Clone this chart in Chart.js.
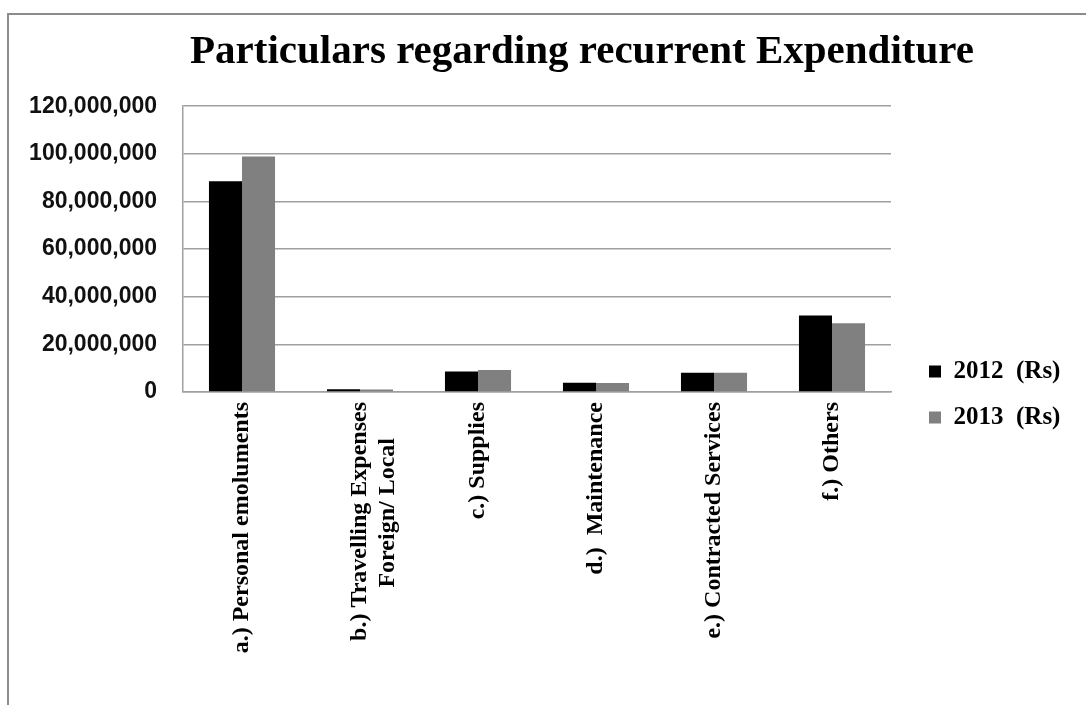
<!DOCTYPE html>
<html>
<head>
<meta charset="utf-8">
<script src="https://cdn.jsdelivr.net/npm/chart.js@4"></script>
<style>
  html, body { margin: 0; padding: 0; background: #fff; overflow: hidden; }
  #frame { position: absolute; left: 7px; top: 13px; width: 1200px; height: 800px;
           border-left: 2px solid #8c8c8c; border-top: 2px solid #8c8c8c; }
  #wrap { position: absolute; left: 0; top: 0; width: 1086px; height: 705px; }
</style>
</head>
<body>
<div id="frame"></div>
<div id="wrap"><canvas id="c"></canvas></div>
<script>
const titleText = 'Particulars regarding recurrent Expenditure';
const categories = [
  'a.) Personal emoluments',
  ['b.) Travelling Expenses', 'Foreign/ Local      '],
  'c.) Supplies',
  'd.)  Maintenance',
  'e.) Contracted Services',
  'f.) Others'
];
const seriesNames = ['2012  (Rs)', '2013  (Rs)'];
const values2012 = [88500000, 1200000, 8600000, 3900000, 8100000, 32100000];
const values2013 = [98900000, 1100000, 9200000, 3800000, 8100000, 28900000];
const yTicks = [0, 20000000, 40000000, 60000000, 80000000, 100000000, 120000000];

const placement = {
  id: 'placement',
  afterLayout(chart) {
    const t = chart.titleBlock;
    if (t) { t.left = 78; t.right = chart.width; }
    const lg = chart.legend;
    if (lg) {
      const w = lg.width, h = lg.height;
      lg.left = 908; lg.right = 908 + w;
      lg.top = 338; lg.bottom = 338 + h;
    }
  }
};

new Chart(document.getElementById('c'), {
  type: 'bar',
  data: {
    labels: categories,
    datasets: [
      { label: seriesNames[0], data: values2012, backgroundColor: '#000000' },
      { label: seriesNames[1], data: values2013, backgroundColor: '#808080' }
    ]
  },
  options: {
    responsive: true,
    maintainAspectRatio: false,
    animation: false,
    layout: { padding: { left: 0, right: 195, top: 0, bottom: 0 } },
    datasets: { bar: { categoryPercentage: 0.56, barPercentage: 1.0 } },
    plugins: {
      title: {
        display: true,
        text: titleText,
        color: '#000',
        font: { family: '"Liberation Serif", "Times New Roman", serif', size: 41, weight: 'bold' },
        padding: { top: 28, bottom: 29 }
      },
      legend: {
        display: true,
        position: 'chartArea',
        align: 'start',
        labels: {
          color: '#000',
          boxWidth: 12,
          boxHeight: 12,
          padding: 21,
          font: { family: '"Liberation Serif", "Times New Roman", serif', size: 25, weight: 'bold' }
        }
      },
      tooltip: { enabled: false }
    },
    scales: {
      x: {
        grid: { display: false, drawTicks: false },
        border: { display: true, color: '#a0a0a0', width: 1.5 },
        ticks: {
          autoSkip: false,
          maxRotation: 90,
          minRotation: 90,
          padding: 10,
          color: '#000',
          font: { family: '"Liberation Serif", "Times New Roman", serif', size: 24, weight: 'bold', lineHeight: 1.15 }
        },
        afterFit(scale) { scale.height = 313; }
      },
      y: {
        min: 0,
        max: 120000000,
        afterBuildTicks(scale) { scale.ticks = yTicks.map(v => ({ value: v })); },
        grid: { color: '#a0a0a0', lineWidth: 1.5, drawTicks: false },
        border: { display: true, color: '#a0a0a0', width: 1.5 },
        ticks: {
          padding: 26,
          color: '#111',
          font: { family: '"Liberation Sans", Arial, sans-serif', size: 23, weight: 'bold' },
          callback: (v) => Number(v).toLocaleString('en-US')
        },
        afterFit(scale) { scale.width = 183; }
      }
    }
  },
  plugins: [placement]
});
</script>
</body>
</html>
